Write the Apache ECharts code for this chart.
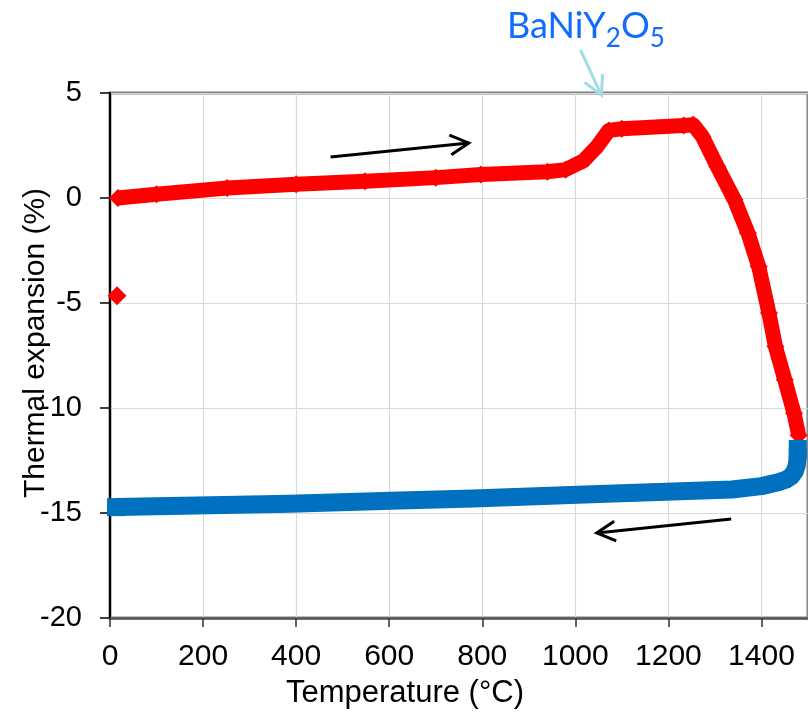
<!DOCTYPE html>
<html><head><meta charset="utf-8">
<script src="https://cdn.jsdelivr.net/npm/echarts@6/dist/echarts.min.js"></script>
<style>html,body{margin:0;padding:0;background:#fff}#c{width:808px;height:713px}</style>
</head><body><div id="c"></div>
<script>
// ---- data ----
const heatT = [17, 100, 252, 400, 548, 700, 797, 940, 979, 1018, 1047, 1072, 1100, 1233, 1253, 1273, 1305, 1342, 1371, 1394, 1416, 1430, 1450, 1470, 1480];
const heatV = [0.0, 0.18, 0.48, 0.65, 0.8, 0.97, 1.12, 1.25, 1.35, 1.78, 2.46, 3.22, 3.3, 3.45, 3.49, 2.93, 1.5, -0.08, -1.67, -3.26, -5.48, -7.07, -8.65, -10.25, -11.3];
const coolT = [1478, 1478, 1476, 1472, 1464, 1452, 1436, 1400, 1337, 1051, 780, 622, 387, 13];
const coolV = [-11.95, -12.3, -12.7, -13.0, -13.25, -13.42, -13.54, -13.72, -13.88, -14.09, -14.31, -14.41, -14.56, -14.72];
const loneT = [15];
const loneV = [-4.65];
const xRange = [0, 1500], xStep = 200;
const yRange = [-20, 5], yStep = 5;
const xTitle = 'Temperature (°C)';
const yTitle = 'Thermal expansion (%)';
const compoundParts = [['BaNiY', false], ['2', true], ['O', false], ['5', true]];

// annotation arrows in data space [T, value]
const arrowDefs = [
  { from: [474, 1.95], to: [771, 2.62], color: '#000000' },
  { from: [1335, -15.29], to: [1046, -15.95], color: '#000000' },
  { from: [1011, 7.05], to: [1056, 4.9], color: '#9fdce7' }
];

const zip = (a, b) => a.map((v, i) => [v, b[i]]);
const endsOnly = (a, b, sym) => a.map((v, i) => ({ value: [v, b[i]], symbol: (i === 0 || i === a.length - 1) ? sym : 'none' }));
const chart = echarts.init(document.getElementById('c'), null, { renderer: 'canvas' });
const AX = 'Liberation Sans, Arial, sans-serif';

chart.setOption({
  animation: false,
  backgroundColor: '#ffffff',
  grid: { left: 110, top: 93, width: 700, height: 525, show: true, borderColor: '#808080', borderWidth: 3, backgroundColor: 'transparent' },
  xAxis: {
    type: 'value', min: xRange[0], max: xRange[1], interval: xStep,
    axisLine: { show: true, onZero: false, lineStyle: { color: '#595959', width: 2.5 } },
    axisTick: { show: true, length: 9, lineStyle: { color: '#333', width: 1.5 } },
    axisLabel: { color: '#000', fontSize: 30, fontFamily: AX, margin: 24, showMaxLabel: false, formatter: v => String(v) },
    splitLine: { show: true, lineStyle: { color: '#d9d9d9', width: 1.2 } }
  },
  yAxis: {
    type: 'value', min: yRange[0], max: yRange[1], interval: yStep,
    axisLine: { show: true, onZero: false, lineStyle: { color: '#000', width: 2 } },
    axisTick: { show: true, length: 10, lineStyle: { color: '#000', width: 1.5 } },
    axisLabel: { color: '#000', fontSize: 29, fontFamily: AX, margin: 28, formatter: v => String(v) },
    splitLine: { show: true, lineStyle: { color: '#d9d9d9', width: 1.2 } }
  },
  series: [
    { type: 'line', z: 2, data: zip(heatT, heatV), symbol: 'diamond', symbolSize: 18, showAllSymbol: true,
      itemStyle: { color: '#ff0000' }, lineStyle: { color: '#ff0000', width: 15, join: 'round' } },
    { type: 'line', z: 3, data: endsOnly(coolT, coolV, 'rect'), symbolSize: 18, showAllSymbol: true,
      itemStyle: { color: '#0070c0' }, lineStyle: { color: '#0070c0', width: 18, join: 'round' } },
    { type: 'scatter', z: 2, data: zip(loneT, loneV), symbol: 'diamond', symbolSize: 19, itemStyle: { color: '#ff0000', opacity: 1 } }
  ]
});

// ---- annotations ----
const g = [];
function chevron(p, s, len, ang) {
  const dx = s[0] - p[0], dy = s[1] - p[1], L = Math.hypot(dx, dy);
  const ux = dx / L, uy = dy / L;
  const rot = a => [p[0] + len * (ux * Math.cos(a) - uy * Math.sin(a)), p[1] + len * (ux * Math.sin(a) + uy * Math.cos(a))];
  return [rot(ang), p, rot(-ang)];
}
arrowDefs.forEach(a => {
  const s = chart.convertToPixel({ xAxisIndex: 0, yAxisIndex: 0 }, a.from);
  const t = chart.convertToPixel({ xAxisIndex: 0, yAxisIndex: 0 }, a.to);
  g.push({ type: 'polyline', shape: { points: [s, t] }, style: { stroke: a.color, lineWidth: 3, fill: null }, z: 10 });
  g.push({ type: 'polyline', shape: { points: chevron(t, s, 21, 28 * Math.PI / 180) }, style: { stroke: a.color, lineWidth: 3, fill: null, lineJoin: 'miter' }, z: 10 });
});
// compound label
const ctx = document.createElement('canvas').getContext('2d');
let cx = 507;
compoundParts.forEach(([txt, sub]) => {
  const fs = sub ? 26 : 36;
  const font = fs + 'px Lato, sans-serif';
  ctx.font = font;
  g.push({ type: 'text', x: cx, y: sub ? 39 : 26, z: 10, style: { text: txt, font: font, fill: '#0f6cff', textAlign: 'left', textVerticalAlign: 'middle' } });
  cx += ctx.measureText(txt).width;
});
// axis titles
g.push({ type: 'text', x: 405, y: 693, z: 10, style: { text: xTitle, font: '31px ' + AX, fill: '#000', textAlign: 'center', textVerticalAlign: 'middle' } });
g.push({ type: 'text', x: 36, y: 343, rotation: Math.PI / 2, z: 10, style: { text: yTitle, font: '30px ' + AX, fill: '#000', textAlign: 'center', textVerticalAlign: 'middle' } });
chart.setOption({ graphic: g });
</script></body></html>
